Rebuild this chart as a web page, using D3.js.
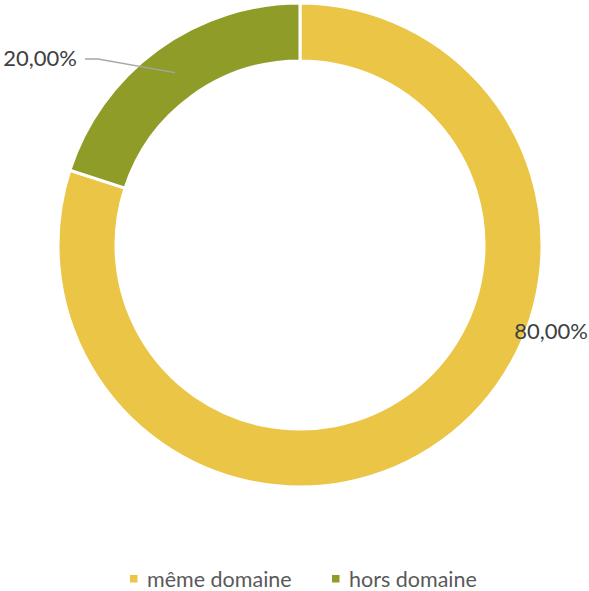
<!DOCTYPE html>
<html><head><meta charset="utf-8">
<script src="https://cdn.jsdelivr.net/npm/d3@7"></script>
<style>body{margin:0;background:#fff}svg{display:block}</style>
</head><body>
<svg id="c" width="589" height="591"></svg>
<script>
const categories = ["même domaine", "hors domaine"];
const values = [80, 20];
const labels = ["80,00%", "20,00%"];
const colors = ["#EBC546", "#8F9C27"];

const svg = d3.select("#c");
const cx = 300, cy = 245, rOuter = 242, rInner = 184;
const g = svg.append("g").attr("transform", `translate(${cx},${cy})`);
const pie = d3.pie().sort(null).value(d => d)(values);
const arc = d3.arc().innerRadius(rInner).outerRadius(rOuter);
g.selectAll("path").data(pie).join("path")
  .attr("d", arc).attr("fill", (d, i) => colors[i])
  .attr("stroke", "#fff").attr("stroke-width", 3);

const font = "Lato, 'Open Sans', sans-serif";
const fs = 22;
// label 80%
const midArc = d3.arc().innerRadius((rInner + rOuter) / 2).outerRadius((rInner + rOuter) / 2);
g.append("text").attr("x", 251).attr("y", 94)
  .attr("text-anchor", "middle").attr("font-family", font).attr("font-size", fs)
  .attr("fill", "#404040").text(labels[0]);
// label 20% with leader
const c1 = midArc.centroid(pie[1]);
g.append("polyline")
  .attr("points", `${c1[0]},${c1[1]} ${-202},${-186} ${-215},${-186}`)
  .attr("fill", "none").attr("stroke", "#a6a6a6").attr("stroke-width", 1.3);
g.append("text").attr("x", -223).attr("y", -179)
  .attr("text-anchor", "end").attr("font-family", font).attr("font-size", fs)
  .attr("fill", "#404040").text(labels[1]);

// legend
const leg = svg.append("g").attr("transform", "translate(130,575)");
const xs = [0, 202];
categories.forEach((c, i) => {
  const it = leg.append("g").attr("transform", `translate(${xs[i]},0)`);
  it.append("rect").attr("x", 0).attr("y", 0).attr("width", 7.5).attr("height", 7.5).attr("fill", colors[i]);
  it.append("text").attr("x", 17).attr("y", 11.5).attr("font-family", font).attr("font-size", 21.5)
    .attr("fill", "#595959").text(c);
});
</script>
</body></html>
